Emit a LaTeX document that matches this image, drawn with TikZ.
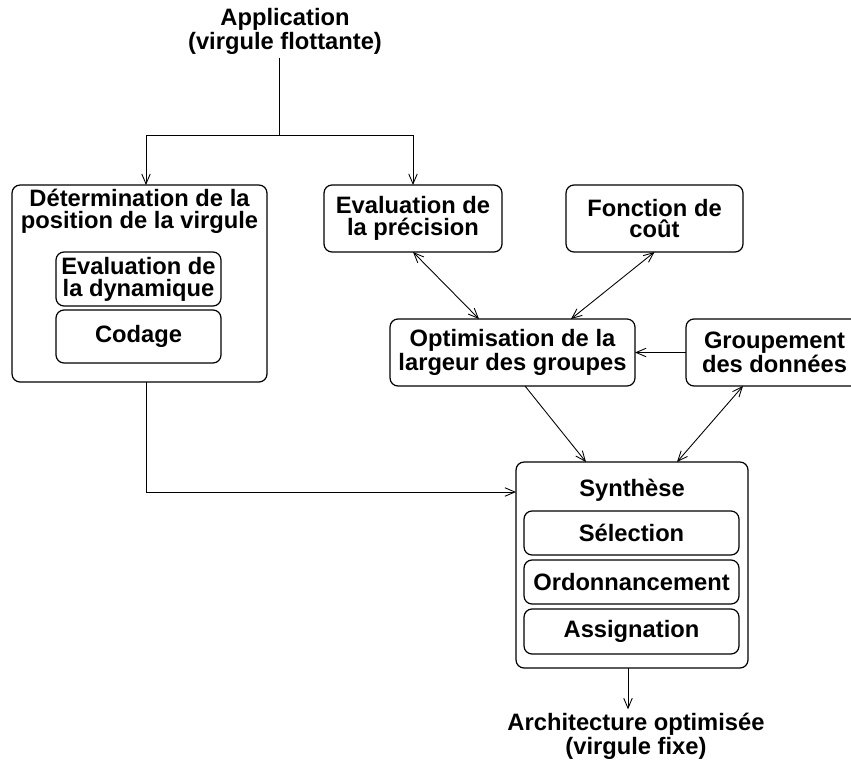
\documentclass[tikz,border=0pt]{standalone}
\usepackage{fontspec}
\setmainfont{Liberation Sans}
\usepackage{tikz}
\usetikzlibrary{arrows.meta, positioning, calc}

\begin{document}
\begin{tikzpicture}[x=0.02cm, y=-0.02cm,
    every node/.style={outer sep=0pt, inner sep=2pt, align=center,
        font=\fontsize{13.5}{12.5}\selectfont\bfseries},
    box/.style={draw, line width=0.7pt, rounded corners=0.16cm, inner sep=0pt},
    arr/.style={line width=0.5pt, -{Straight Barb[length=0.2cm, width=0.17cm]}},
    dbl/.style={line width=0.5pt, {Straight Barb[length=0.2cm, width=0.17cm]}-{Straight Barb[length=0.2cm, width=0.17cm]}}]
    \useasboundingbox (0,0) rectangle (851,764);

    % Input
    \node (app) at (285,31) {Application\\(virgule flottante)};
    \coordinate (split) at (279,135);
    \coordinate (bl) at (146,135);
    \coordinate (br) at (413,135);

    % Position de la virgule
    \node[box, minimum width=5.1cm, minimum height=3.94cm] (det) at (139.5,283.5) {};
    \node (dettxt) at (139.5,211) {Détermination de la\\position de la virgule};
    \node[box, minimum width=3.3cm, minimum height=1.08cm] (dyn) at (138.5,279) {Evaluation de\\la dynamique};
    \node[box, minimum width=3.3cm, minimum height=1.06cm] (cod) at (138.5,336.5) {Codage};

    % Precision, cout, optimisation
    \node[box, minimum width=3.56cm, minimum height=1.34cm] (prec) at (413,218.5) {Evaluation de\\la précision};
    \node[box, minimum width=3.54cm, minimum height=1.34cm] (cout) at (654.5,218.5) {Fonction de\\coût};
    \node[box, minimum width=4.9cm, minimum height=1.34cm] (opt) at (512.5,352.5) {Optimisation de la\\largeur des groupes};
    \node[box, minimum width=3.54cm, minimum height=1.34cm] (grp) at (774.5,352.5) {Groupement\\des données};

    % Synthese
    \node[box, minimum width=4.64cm, minimum height=4.12cm] (syn) at (632,565) {};
    \node (syntxt) at (632,490) {Synthèse};
    \node[box, minimum width=4.3cm, minimum height=0.88cm] (sel) at (631.5,533) {Sélection};
    \node[box, minimum width=4.3cm, minimum height=0.88cm] (ord) at (631.5,582) {Ordonnancement};
    \node[box, minimum width=4.3cm, minimum height=0.9cm] (asg) at (631.5,631.5) {Assignation};

    % Output
    \node (arch) at (636,736) {Architecture optimisée\\(virgule fixe)};
    \coordinate (out) at ($(syn.south)+(-4,0)$);
    \coordinate (synin) at (516,492);

    % Connections
    \draw[line width=0.5pt] (app.south -| split) -- (split);
    \draw[line width=0.5pt] (bl) -- (br);
    \draw[arr] (bl) -- (bl |- det.north);
    \draw[arr] (br) -- (prec.north);
    \draw[arr] (det.south -| bl) |- (synin);
    \draw[dbl] (prec.south) -- ($(opt.north)+(-33.5,0)$);
    \draw[dbl] (cout.south) -- ($(opt.north)+(58.5,0)$);
    \draw[arr] (grp.west) -- (opt.east);
    \draw[arr] ($(opt.south)+(12.5,0)$) -- ($(syn.north)+(-46,0)$);
    \draw[dbl] ($(grp.south)+(-31.5,0)$) -- ($(syn.north)+(45,0)$);
    \draw[arr] (out) -- (out |- arch.north);
\end{tikzpicture}
\end{document}
